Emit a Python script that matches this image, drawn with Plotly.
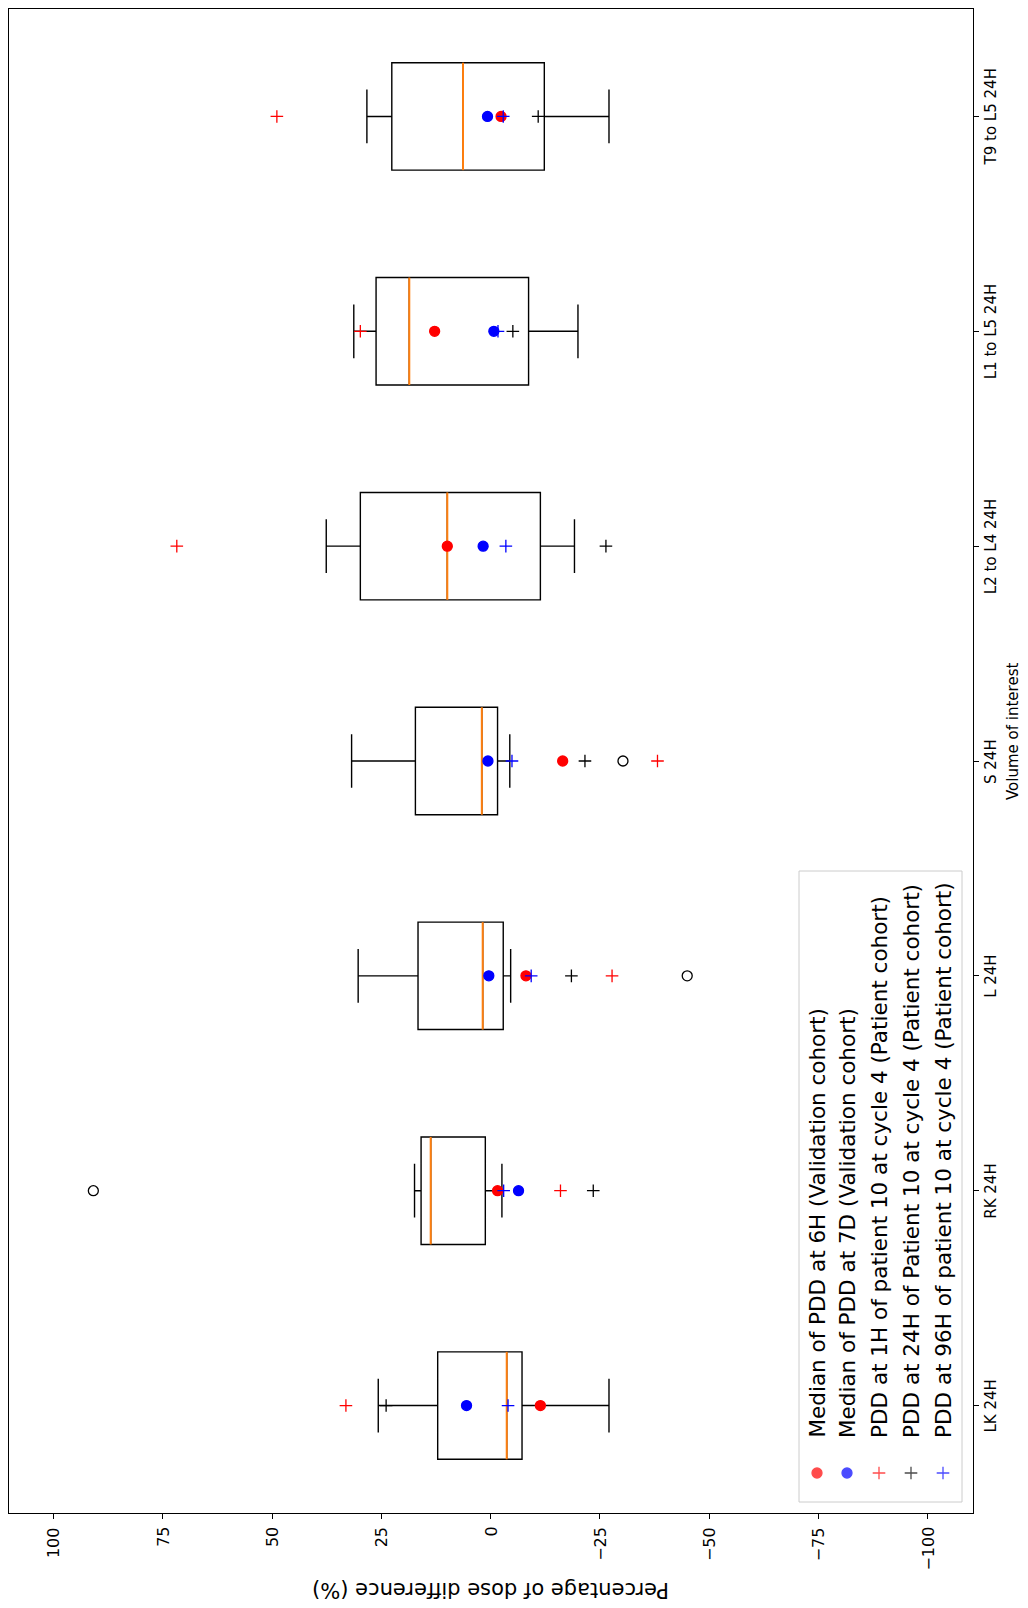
import plotly.graph_objects as go

categories = ["LK 24H", "RK 24H", "L 24H", "S 24H", "L2 to L4 24H", "L1 to L5 24H", "T9 to L5 24H"]

# box statistics (percentage of dose difference)
q1 = [-7.2, 1.2, -2.9, -1.6, -11.4, -8.7, -12.3]
median = [-3.7, 13.7, 1.8, 2.0, 9.9, 18.6, 6.3]
q3 = [12.1, 15.9, 16.6, 17.2, 29.8, 26.2, 22.6]
whisker_low = [-27.1, -2.6, -4.6, -4.4, -19.2, -20.0, -27.1]
whisker_high = [25.7, 17.4, 30.3, 31.8, 37.6, 31.3, 28.3]

# fliers (category index, value)
flier_cat = [1, 2, 3]
flier_val = [90.9, -45.0, -30.3]

med_6h = [-11.4, -1.6, -8.1, -16.5, 9.9, 12.8, -2.4]
med_7d = [5.5, -6.4, 0.4, 0.6, 1.7, -0.75, 0.7]
pdd_1h = [33.1, -16.0, -27.8, -38.2, 71.8, 29.8, 48.9]
pdd_24h = [23.9, -23.5, -18.5, -21.6, -26.4, -5.1, -10.9]
pdd_96h = [-4.0, -3.0, -9.3, -4.9, -3.5, -1.7, -2.9]

legend_labels = [
    "Median of PDD at 6H (Validation cohort)",
    "Median of PDD at 7D (Validation cohort)",
    "PDD at 1H of patient 10 at cycle 4 (Patient cohort)",
    "PDD at 24H of Patient 10 at cycle 4 (Patient cohort)",
    "PDD at 96H of patient 10 at cycle 4 (Patient cohort)",
]

value_ticks = [100, 75, 50, 25, 0, -25, -50, -75, -100]

FONT = "DejaVu Sans"
ORANGE = "#ff7f0e"

# the page body has an 8px margin, so the figure is drawn 8px smaller and
# all positions below are page pixels
OFF = 8
W, H = 1028 - OFF, 1608 - OFF
X0, X1 = 9, 973
Y0, Y1 = 9, 1513


def px(x):
    return (x - X0) / (X1 - X0)


def py(y):
    return (Y1 - y) / (Y1 - Y0)


pos = list(range(1, len(categories) + 1))

fig = go.Figure()

fig.add_trace(go.Box(
    orientation="h", y=pos, q1=q1, median=median, q3=q3,
    lowerfence=whisker_low, upperfence=whisker_high,
    width=0.5, whiskerwidth=0.5, fillcolor="rgba(0,0,0,0)",
    line=dict(color="black", width=1.4), boxpoints=False,
    showlegend=False, hoverinfo="skip",
))

# orange median lines
mx, my = [], []
for p, m in zip(pos, median):
    mx += [m, m, None]
    my += [p - 0.25, p + 0.25, None]
fig.add_trace(go.Scatter(x=mx, y=my, mode="lines", line=dict(color=ORANGE, width=2),
                         showlegend=False, hoverinfo="skip"))

fig.add_trace(go.Scatter(x=flier_val, y=[pos[i] for i in flier_cat], mode="markers",
                         marker=dict(symbol="circle-open", size=10, color="black", line=dict(width=1.3)),
                         showlegend=False))

series = [
    (med_6h, "circle", "red"),
    (med_7d, "circle", "blue"),
    (pdd_1h, "cross-thin", "red"),
    (pdd_24h, "cross-thin", "black"),
    (pdd_96h, "cross-thin", "blue"),
]


def msize(sym):
    return 10 if sym == "circle" else 9


for vals, sym, col in [series[1], series[0], series[2], series[3], series[4]]:
    fig.add_trace(go.Scatter(x=vals, y=pos, mode="markers",
                             marker=dict(symbol=sym, size=msize(sym), color=col,
                                         line=dict(width=1.3, color=col)),
                             showlegend=False))

# hand made rotated legend
leg_cols = [817, 847, 879, 911, 943]
fig.add_shape(type="rect", xref="paper", yref="paper",
              x0=px(799), x1=px(962), y0=py(1502), y1=py(871),
              line=dict(color="#cccccc", width=1), fillcolor="white", layer="below")

fig.add_trace(go.Scatter(
    x=[px(c) for c in leg_cols], y=[py(1473)] * 5, xaxis="x2", yaxis="y2", mode="markers",
    marker=dict(symbol=[s[1] for s in series], color=[s[2] for s in series],
                size=[msize(s[1]) for s in series],
                line=dict(width=1.3, color=[s[2] for s in series])),
    showlegend=False, hoverinfo="skip",
))

annotations = []
for c, lab in zip(leg_cols, legend_labels):
    annotations.append(dict(text=lab, xref="paper", yref="paper", x=px(c), y=py(1440),
                            xanchor="center", yanchor="bottom", textangle=-90, showarrow=False,
                            font=dict(family=FONT, size=21.5, color="black")))

# value tick labels (rotated, end of text next to the axis)
for v in value_ticks:
    annotations.append(dict(text=str(v).replace("-", "\u2212"), xref="x", yref="paper",
                            x=v, y=py(1525), xanchor="center", yanchor="top", textangle=-90,
                            showarrow=False, font=dict(family=FONT, size=16, color="black")))

# category tick labels on the right
for p, cat in zip(pos, categories):
    annotations.append(dict(text=cat, xref="paper", yref="y", x=px(991), y=p,
                            xanchor="center", yanchor="middle", textangle=-90,
                            showarrow=False, font=dict(family=FONT, size=15, color="black")))

annotations.append(dict(text="Percentage of dose difference (%)", xref="paper", yref="paper",
                        x=px(490.5), y=py(1590), xanchor="center", yanchor="middle", textangle=180,
                        showarrow=False, font=dict(family=FONT, size=21, color="black")))
annotations.append(dict(text="Volume of interest", xref="paper", yref="paper",
                        x=px(1013), y=py(732), xanchor="center", yanchor="middle", textangle=-90,
                        showarrow=False, font=dict(family=FONT, size=15, color="black")))

fig.update_layout(
    width=W, height=H,
    margin=dict(l=X0 - OFF, r=W - (X1 - OFF), t=Y0 - OFF, b=H - (Y1 - OFF)),
    paper_bgcolor="white", plot_bgcolor="white",
    font=dict(family=FONT, color="black"),
    xaxis=dict(range=[110.2, -110.4], tickvals=value_ticks, showticklabels=False,
               ticks="outside", ticklen=5, tickcolor="black",
               showline=True, mirror=True, linecolor="black", linewidth=1,
               showgrid=False, zeroline=False),
    yaxis=dict(range=[0.5, 7.5], tickvals=pos, showticklabels=False, side="right",
               ticks="outside", ticklen=5, tickcolor="black",
               showline=True, mirror=True, linecolor="black", linewidth=1,
               showgrid=False, zeroline=False),
    xaxis2=dict(range=[0, 1], overlaying="x", visible=False),
    yaxis2=dict(range=[0, 1], overlaying="y", visible=False),
    annotations=annotations,
    showlegend=False,
)

fig.write_html("out.html")
